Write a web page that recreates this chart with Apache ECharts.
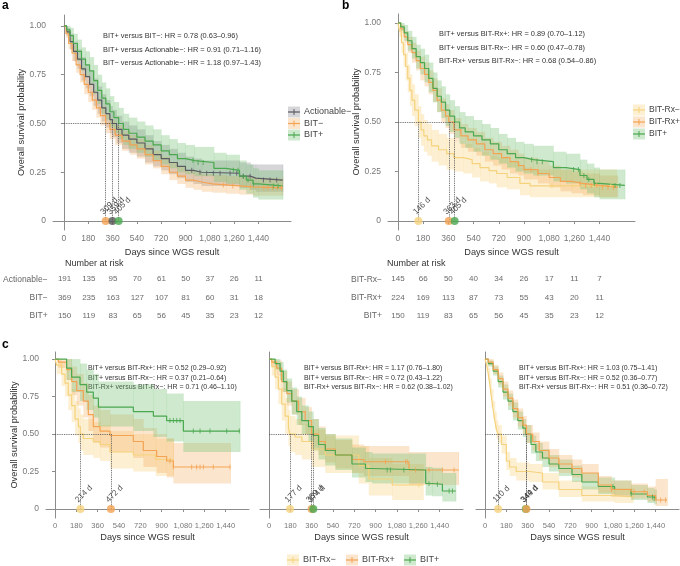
<!DOCTYPE html>
<html>
<head>
<meta charset="utf-8">
<script src="https://cdn.jsdelivr.net/npm/echarts@6/dist/echarts.min.js"></script>
<style>
  html, body { margin: 0; padding: 0; background: #fff; }
  #main { width: 680px; height: 566px; }
</style>
</head>
<body>
<div id="main"></div>
<script>
(function () {
    'use strict';

    // rows are [day, survival, lower CI, upper CI]
    var aActionable = [
        [0, 1, 1, 1], [20, 0.97, 0.95, 0.99], [45, 0.92, 0.88, 0.96], [70, 0.87, 0.82, 0.92],
        [100, 0.83, 0.78, 0.88], [130, 0.78, 0.72, 0.84], [160, 0.74, 0.68, 0.80], [190, 0.70, 0.64, 0.77],
        [220, 0.66, 0.59, 0.73], [250, 0.62, 0.55, 0.69], [280, 0.58, 0.51, 0.65], [310, 0.55, 0.48, 0.62],
        [340, 0.52, 0.45, 0.59], [359, 0.50, 0.43, 0.57], [390, 0.47, 0.40, 0.54], [430, 0.44, 0.37, 0.51],
        [480, 0.42, 0.35, 0.49], [540, 0.40, 0.33, 0.47], [600, 0.37, 0.30, 0.44], [660, 0.34, 0.28, 0.41],
        [720, 0.32, 0.26, 0.39], [780, 0.30, 0.24, 0.37], [840, 0.28, 0.22, 0.35], [900, 0.26, 0.20, 0.33],
        [960, 0.25, 0.19, 0.32], [1020, 0.245, 0.18, 0.31], [1300, 0.23, 0.17, 0.30], [1380, 0.22, 0.16, 0.29],
        [1420, 0.21, 0.15, 0.29], [1620, 0.21, 0.15, 0.29]
    ];
    var aActionableCens = [946, 1007, 1057, 1106, 1156, 1230, 1279, 1328, 1378, 1477, 1526, 1575];

    var aBitMinus = [
        [0, 1, 1, 1], [15, 0.96, 0.94, 0.98], [35, 0.91, 0.88, 0.94], [60, 0.86, 0.82, 0.90],
        [90, 0.80, 0.76, 0.84], [120, 0.75, 0.71, 0.79], [150, 0.70, 0.65, 0.75], [180, 0.66, 0.61, 0.71],
        [210, 0.62, 0.57, 0.67], [240, 0.58, 0.53, 0.63], [270, 0.54, 0.49, 0.59], [309, 0.50, 0.45, 0.55],
        [340, 0.47, 0.42, 0.52], [380, 0.44, 0.39, 0.49], [430, 0.41, 0.36, 0.46], [490, 0.39, 0.34, 0.44],
        [540, 0.37, 0.32, 0.42], [600, 0.34, 0.29, 0.39], [660, 0.31, 0.27, 0.36], [720, 0.28, 0.24, 0.33],
        [780, 0.25, 0.21, 0.30], [840, 0.23, 0.19, 0.28], [900, 0.21, 0.17, 0.26], [960, 0.20, 0.16, 0.25],
        [1020, 0.19, 0.15, 0.24], [1100, 0.185, 0.145, 0.235], [1200, 0.18, 0.14, 0.23],
        [1300, 0.175, 0.135, 0.225], [1400, 0.17, 0.13, 0.22], [1620, 0.17, 0.13, 0.22]
    ];
    var aBitMinusCens = [1180, 1250, 1380, 1480, 1510, 1545, 1580, 1610];

    // BIT+ is the same group in a and b
    var bitPlus = [
        [0, 1, 1, 1], [20, 0.98, 0.96, 1], [45, 0.95, 0.91, 0.99], [70, 0.91, 0.86, 0.96],
        [100, 0.87, 0.82, 0.93], [130, 0.83, 0.77, 0.89], [160, 0.80, 0.74, 0.87], [190, 0.77, 0.70, 0.84],
        [220, 0.72, 0.65, 0.80], [250, 0.67, 0.60, 0.75], [280, 0.63, 0.55, 0.71], [310, 0.60, 0.52, 0.68],
        [340, 0.56, 0.48, 0.64], [370, 0.53, 0.45, 0.61], [405, 0.50, 0.42, 0.58], [440, 0.47, 0.39, 0.55],
        [480, 0.45, 0.37, 0.53], [540, 0.43, 0.35, 0.51], [600, 0.41, 0.33, 0.49], [660, 0.39, 0.31, 0.47],
        [720, 0.36, 0.29, 0.44], [780, 0.34, 0.27, 0.42], [840, 0.32, 0.25, 0.40], [900, 0.31, 0.24, 0.39],
        [967, 0.30, 0.23, 0.38], [1110, 0.27, 0.20, 0.35], [1200, 0.26, 0.19, 0.34], [1300, 0.23, 0.16, 0.31],
        [1350, 0.21, 0.14, 0.29], [1400, 0.19, 0.12, 0.27], [1440, 0.18, 0.11, 0.26], [1620, 0.18, 0.11, 0.26]
    ];
    var bitPlusCens = [955, 993, 1031, 1254, 1289, 1328, 1363, 1402, 1550, 1585];

    var bRxMinus = [
        [0, 1, 1, 1], [10, 0.96, 0.93, 0.99], [25, 0.90, 0.85, 0.95], [40, 0.84, 0.78, 0.90],
        [55, 0.78, 0.71, 0.85], [70, 0.72, 0.65, 0.79], [85, 0.66, 0.58, 0.74], [100, 0.61, 0.53, 0.69],
        [120, 0.56, 0.48, 0.64], [146, 0.50, 0.42, 0.58], [165, 0.46, 0.38, 0.54], [185, 0.43, 0.35, 0.51],
        [210, 0.41, 0.33, 0.49], [240, 0.38, 0.30, 0.46], [290, 0.36, 0.28, 0.44], [348, 0.34, 0.26, 0.42],
        [400, 0.32, 0.25, 0.40], [467, 0.31, 0.24, 0.39], [530, 0.29, 0.22, 0.37], [586, 0.27, 0.20, 0.35],
        [650, 0.255, 0.19, 0.33], [705, 0.24, 0.17, 0.32], [780, 0.22, 0.16, 0.30], [871, 0.19, 0.13, 0.27],
        [943, 0.178, 0.12, 0.26], [1560, 0.178, 0.12, 0.26]
    ];
    var bRxMinusCens = [1100, 1250, 1400, 1520];

    var bRxPlus = [
        [0, 1, 1, 1], [20, 0.97, 0.95, 0.99], [45, 0.93, 0.90, 0.96], [70, 0.89, 0.85, 0.93],
        [100, 0.85, 0.80, 0.90], [130, 0.81, 0.76, 0.86], [160, 0.77, 0.71, 0.83], [190, 0.74, 0.68, 0.80],
        [220, 0.70, 0.64, 0.76], [250, 0.66, 0.60, 0.72], [280, 0.61, 0.55, 0.67], [310, 0.56, 0.50, 0.62],
        [340, 0.53, 0.47, 0.59], [363, 0.50, 0.44, 0.56], [400, 0.46, 0.40, 0.52], [450, 0.43, 0.37, 0.49],
        [500, 0.41, 0.35, 0.47], [560, 0.39, 0.33, 0.45], [620, 0.36, 0.30, 0.42], [680, 0.34, 0.28, 0.40],
        [740, 0.32, 0.26, 0.38], [800, 0.30, 0.24, 0.36], [860, 0.28, 0.23, 0.34], [900, 0.26, 0.21, 0.32],
        [1000, 0.24, 0.19, 0.30], [1080, 0.22, 0.17, 0.28], [1160, 0.20, 0.15, 0.26], [1240, 0.19, 0.14, 0.25],
        [1320, 0.18, 0.13, 0.24], [1440, 0.17, 0.12, 0.23], [1570, 0.17, 0.12, 0.23]
    ];
    var bRxPlusCens = [950, 1000, 1300, 1340, 1380, 1420, 1460, 1500, 1540];

    var c1RxMinus = [
        [0, 1, 1, 1], [14, 0.96, 0.90, 1], [56, 0.90, 0.82, 0.98], [84, 0.84, 0.75, 0.94],
        [112, 0.76, 0.66, 0.87], [141, 0.69, 0.58, 0.80], [169, 0.60, 0.49, 0.72], [197, 0.55, 0.44, 0.67],
        [214, 0.50, 0.39, 0.63], [239, 0.47, 0.36, 0.60], [323, 0.45, 0.34, 0.58], [380, 0.43, 0.32, 0.56],
        [464, 0.38, 0.27, 0.52], [661, 0.36, 0.25, 0.50], [850, 0.33, 0.22, 0.47], [1000, 0.33, 0.22, 0.47]
    ];
    var c1RxPlus = [
        [0, 1, 1, 1], [28, 0.98, 0.94, 1], [98, 0.93, 0.86, 1], [141, 0.85, 0.76, 0.95],
        [183, 0.79, 0.69, 0.90], [239, 0.72, 0.61, 0.84], [281, 0.63, 0.52, 0.76], [323, 0.55, 0.44, 0.69],
        [380, 0.52, 0.41, 0.66], [464, 0.49, 0.38, 0.63], [661, 0.45, 0.34, 0.60], [745, 0.39, 0.28, 0.54],
        [858, 0.35, 0.24, 0.50], [942, 0.32, 0.21, 0.47], [999, 0.28, 0.17, 0.44], [1480, 0.28, 0.17, 0.44]
    ];
    var c1RxPlusCens = [970, 999, 1153, 1195, 1224, 1252, 1336, 1477];
    var c1BitPlus = [
        [0, 1, 1, 1], [98, 0.94, 0.86, 1], [140, 0.88, 0.78, 1], [211, 0.83, 0.72, 0.97],
        [267, 0.78, 0.66, 0.93], [323, 0.74, 0.61, 0.90], [366, 0.68, 0.55, 0.85], [661, 0.65, 0.52, 0.83],
        [830, 0.62, 0.48, 0.80], [942, 0.59, 0.45, 0.77], [1083, 0.52, 0.38, 0.72], [1560, 0.52, 0.38, 0.72]
    ];
    var c1BitPlusCens = [970, 999, 1027, 1055, 1167, 1224, 1308, 1449, 1555];

    var c2RxMinus = [
        [0, 1, 1, 1], [23, 0.95, 0.89, 1], [51, 0.88, 0.80, 0.96], [79, 0.80, 0.70, 0.90],
        [107, 0.70, 0.59, 0.81], [136, 0.62, 0.50, 0.74], [164, 0.54, 0.42, 0.66], [177, 0.50, 0.38, 0.62],
        [220, 0.48, 0.36, 0.60], [277, 0.45, 0.33, 0.57], [362, 0.40, 0.28, 0.53], [475, 0.36, 0.24, 0.49],
        [757, 0.29, 0.17, 0.42], [842, 0.20, 0.09, 0.34], [1040, 0.16, 0.06, 0.30], [1300, 0.16, 0.06, 0.30]
    ];
    var c2RxMinusCens = [1265];
    var c2RxPlus = [
        [0, 1, 1, 1], [23, 0.98, 0.95, 1], [65, 0.94, 0.89, 0.99], [107, 0.85, 0.78, 0.92],
        [150, 0.77, 0.69, 0.85], [192, 0.72, 0.63, 0.80], [249, 0.65, 0.56, 0.74], [305, 0.59, 0.50, 0.68],
        [359, 0.50, 0.41, 0.60], [418, 0.45, 0.36, 0.55], [475, 0.40, 0.31, 0.50], [560, 0.36, 0.27, 0.46],
        [700, 0.33, 0.24, 0.43], [800, 0.315, 0.22, 0.42], [1181, 0.26, 0.16, 0.38], [1600, 0.26, 0.16, 0.38]
    ];
    var c2RxPlusCens = [983, 1153, 1167, 1237, 1350, 1463, 1562];
    var c2BitPlus = [
        [0, 1, 1, 1], [51, 0.97, 0.93, 1], [93, 0.92, 0.86, 0.98], [121, 0.85, 0.78, 0.93],
        [150, 0.79, 0.71, 0.87], [192, 0.72, 0.63, 0.81], [234, 0.65, 0.56, 0.75], [277, 0.59, 0.50, 0.69],
        [333, 0.55, 0.45, 0.65], [374, 0.49, 0.39, 0.60], [418, 0.43, 0.33, 0.54], [475, 0.39, 0.29, 0.50],
        [560, 0.36, 0.26, 0.47], [700, 0.30, 0.21, 0.41], [814, 0.27, 0.18, 0.38], [870, 0.26, 0.17, 0.37],
        [1322, 0.17, 0.09, 0.28], [1378, 0.165, 0.085, 0.275], [1463, 0.12, 0.05, 0.24], [1576, 0.12, 0.05, 0.24]
    ];
    var c2BitPlusCens = [997, 1025, 1138, 1350, 1421, 1520, 1548];

    var c3RxMinus = [
        [0, 1, 1, 1], [14, 0.96, 0.93, 0.99], [28, 0.90, 0.86, 0.94], [42, 0.82, 0.77, 0.87],
        [55, 0.74, 0.68, 0.80], [69, 0.66, 0.60, 0.72], [83, 0.59, 0.53, 0.65], [97, 0.53, 0.47, 0.59],
        [110, 0.50, 0.44, 0.56], [139, 0.43, 0.37, 0.49], [180, 0.32, 0.26, 0.38], [208, 0.28, 0.22, 0.34],
        [263, 0.25, 0.19, 0.31], [374, 0.24, 0.18, 0.30], [485, 0.18, 0.13, 0.24], [623, 0.13, 0.08, 0.19],
        [817, 0.09, 0.05, 0.15], [1094, 0.08, 0.04, 0.14], [1250, 0.08, 0.04, 0.14]
    ];
    var c3RxPlus = [
        [0, 1, 1, 1], [28, 0.98, 0.96, 1], [69, 0.93, 0.90, 0.96], [111, 0.87, 0.83, 0.91],
        [152, 0.80, 0.75, 0.85], [194, 0.74, 0.69, 0.79], [235, 0.67, 0.61, 0.73], [277, 0.61, 0.55, 0.67],
        [319, 0.56, 0.50, 0.62], [349, 0.50, 0.44, 0.56], [402, 0.45, 0.39, 0.51], [457, 0.39, 0.33, 0.45],
        [540, 0.34, 0.28, 0.40], [623, 0.30, 0.24, 0.36], [734, 0.27, 0.21, 0.33], [817, 0.24, 0.18, 0.30],
        [956, 0.16, 0.11, 0.22], [1066, 0.13, 0.08, 0.19], [1233, 0.115, 0.07, 0.17], [1371, 0.09, 0.05, 0.15],
        [1440, 0.06, 0.02, 0.20], [1537, 0.06, 0.02, 0.20]
    ];
    var c3RxPlusCens = [1066, 1260, 1343, 1482, 1524];
    var c3BitPlus = [
        [0, 1, 1, 1], [28, 0.97, 0.95, 0.99], [69, 0.92, 0.89, 0.95], [111, 0.85, 0.81, 0.89],
        [152, 0.78, 0.73, 0.83], [194, 0.72, 0.66, 0.77], [235, 0.65, 0.59, 0.71], [277, 0.59, 0.53, 0.65],
        [319, 0.54, 0.48, 0.60], [344, 0.50, 0.44, 0.56], [388, 0.43, 0.37, 0.49], [429, 0.38, 0.32, 0.44],
        [485, 0.34, 0.28, 0.40], [540, 0.30, 0.25, 0.36], [623, 0.27, 0.22, 0.33], [734, 0.23, 0.18, 0.29],
        [817, 0.18, 0.13, 0.24], [956, 0.15, 0.10, 0.21], [1094, 0.13, 0.09, 0.19], [1233, 0.10, 0.06, 0.16],
        [1371, 0.08, 0.04, 0.14], [1427, 0.07, 0.03, 0.13], [1445, 0.07, 0.03, 0.13]
    ];
    var c3BitPlusCens = [1080, 1233, 1413, 1427];

    // medians (days)
    var aMedians = [309, 359, 405];
    var bMedians = [146, 363, 405];
    var c1Medians = [214, 472];
    var c2Medians = [177, 359, 374];
    var c3Medians = [110, 344, 349];

    // number at risk
    var riskDays = [0, 180, 360, 540, 720, 900, 1080, 1260, 1440];
    var aRiskGroups = ['Actionable−', 'BIT−', 'BIT+'];
    var aRisk = [
        [191, 135, 95, 70, 61, 50, 37, 26, 11],
        [369, 235, 163, 127, 107, 81, 60, 31, 18],
        [150, 119, 83, 65, 56, 45, 35, 23, 12]
    ];
    var bRiskGroups = ['BIT-Rx−', 'BIT-Rx+', 'BIT+'];
    var bRisk = [
        [145, 66, 50, 40, 34, 26, 17, 11, 7],
        [224, 169, 113, 87, 73, 55, 43, 20, 11],
        [150, 119, 83, 65, 56, 45, 35, 23, 12]
    ];

    var xTicks = [0, 180, 360, 540, 720, 900, 1080, 1260, 1440];
    var yTicks = [0, 0.25, 0.5, 0.75, 1];

    var aHR = ['BIT+ versus BIT−: HR = 0.78 (0.63–0.96)',
        'BIT+ versus Actionable−: HR = 0.91 (0.71–1.16)',
        'BIT− versus Actionable−: HR = 1.18 (0.97–1.43)'];
    var bHR = ['BIT+ versus BIT-Rx+: HR = 0.89 (0.70–1.12)',
        'BIT+ versus BIT-Rx−: HR = 0.60 (0.47–0.78)',
        'BIT-Rx+ versus BIT-Rx−: HR = 0.68 (0.54–0.86)'];
    var c1HR = ['BIT+ versus BIT-Rx+: HR = 0.52 (0.29–0.92)',
        'BIT+ versus BIT-Rx−: HR = 0.37 (0.21–0.64)',
        'BIT-Rx+ versus BIT-Rx−: HR = 0.71 (0.46–1.10)'];
    var c2HR = ['BIT+ versus BIT-Rx+: HR = 1.17 (0.76–1.80)',
        'BIT+ versus BIT-Rx−: HR = 0.72 (0.43–1.22)',
        'BIT-Rx+ versus BIT-Rx−: HR = 0.62 (0.38–1.02)'];
    var c3HR = ['BIT+ versus BIT-Rx+: HR = 1.03 (0.75–1.41)',
        'BIT+ versus BIT-Rx−: HR = 0.52 (0.36–0.77)',
        'BIT-Rx+ versus BIT-Rx−: HR = 0.51 (0.36–0.72)'];

    var FONT = 'Liberation Sans';
    var GREY = '#5a5a63', ORANGE = '#f4a352', GREEN = '#4aa84f', YELLOW = '#f5d27c';
    var GREY_B = 'rgba(120,120,130,0.30)', ORANGE_B = 'rgba(246,168,88,0.30)';
    var GREEN_B = 'rgba(110,190,110,0.34)', YELLOW_B = 'rgba(250,214,130,0.36)';

    var chart = echarts.init(document.getElementById('main'));

    function thousands(v) {
        return String(v).replace(/\B(?=(\d{3})+(?!\d))/g, ',');
    }

    function survAt(rows, t) {
        var s = 1;
        for (var i = 0; i < rows.length; i++) {
            if (rows[i][0] <= t) s = rows[i][1];
        }
        return s;
    }

    var grids = [
        {left: 53, top: 15, width: 238, height: 215},
        {left: 388, top: 14, width: 247, height: 216},
        {left: 46, top: 352, width: 203, height: 166},
        {left: 260, top: 352, width: 203, height: 166},
        {left: 476, top: 352, width: 203, height: 166},
        {left: 53, top: 270, width: 238, height: 55},
        {left: 388, top: 270, width: 247, height: 55}
    ];
    var xr = [[-81, 1681], [-71, 1693], [-76, 1637], [-76, 1637], [-76, 1637]];
    var yr = [[-0.046, 1.056], [-0.045, 1.045], [-0.06, 1.047], [-0.06, 1.047], [-0.06, 1.047]];

    var xAxes = [], yAxes = [];
    for (var g = 0; g < 5; g++) {
        xAxes.push({
            type: 'value', gridIndex: g, min: xr[g][0], max: xr[g][1],
            axisLine: {show: true, lineStyle: {color: '#8c8c8c', width: 1}},
            axisTick: {show: true, customValues: xTicks, length: 3, lineStyle: {color: '#8c8c8c'}},
            axisLabel: {
                customValues: xTicks, formatter: thousands, color: '#777',
                fontSize: g < 2 ? 8.5 : 7.6, margin: 4, fontFamily: FONT
            },
            splitLine: {show: false},
            name: 'Days since WGS result', nameLocation: 'middle', nameGap: g < 2 ? 18 : 15,
            nameTextStyle: {color: '#333', fontSize: 9.2, fontFamily: FONT}
        });
        var lab = g < 3;
        yAxes.push({
            type: 'value', gridIndex: g, min: yr[g][0], max: yr[g][1],
            axisLine: {show: true, lineStyle: {color: '#8c8c8c', width: 1}},
            axisTick: {show: lab, customValues: yTicks, length: 3, lineStyle: {color: '#8c8c8c'}},
            axisLabel: {
                show: lab, customValues: yTicks, color: '#777', fontSize: 8.5, margin: 7, fontFamily: FONT,
                formatter: function (v) { return v === 0 ? '0' : v.toFixed(2); }
            },
            splitLine: {show: false},
            name: lab ? 'Overall survival probability' : '', nameLocation: 'middle', nameGap: g === 2 ? 27 : 27,
            nameTextStyle: {color: '#333', fontSize: 9.2, fontFamily: FONT}
        });
    }
    // risk table axes
    [[5, 0, aRiskGroups], [6, 1, bRiskGroups]].forEach(function (t) {
        xAxes.push({type: 'value', gridIndex: t[0], min: xr[t[1]][0], max: xr[t[1]][1], show: false});
        yAxes.push({
            type: 'category', gridIndex: t[0], data: t[2], inverse: true,
            axisLine: {show: false}, axisTick: {show: false}, splitLine: {show: false},
            axisLabel: {color: '#666', fontSize: 8.5, margin: 6, fontFamily: FONT}
        });
    });

    var series = [];

    function addCurve(gi, rows, cens, col, band) {
        var bandData = rows.map(function (r, i) {
            var next = i < rows.length - 1 ? rows[i + 1][0] : r[0];
            return [r[0], r[2], r[3], next];
        });
        series.push({
            type: 'custom', xAxisIndex: gi, yAxisIndex: gi, clip: true, silent: true, z: 1,
            encode: {x: [0, 3], y: [1, 2]},
            data: bandData,
            renderItem: function (params, api) {
                var p1 = api.coord([api.value(0), api.value(2)]);
                var p2 = api.coord([api.value(3), api.value(1)]);
                return {
                    type: 'rect',
                    shape: {x: p1[0], y: p1[1], width: Math.max(0, p2[0] - p1[0] + 0.4), height: p2[1] - p1[1]},
                    style: {fill: band}
                };
            }
        });
        series.push({
            type: 'line', xAxisIndex: gi, yAxisIndex: gi, step: 'end', showSymbol: false, z: 3,
            data: rows.map(function (r) { return [r[0], r[1]]; }),
            lineStyle: {color: col, width: 1.2}, itemStyle: {color: col}
        });
        if (cens && cens.length) {
            series.push({
                type: 'scatter', xAxisIndex: gi, yAxisIndex: gi, symbol: 'rect', symbolSize: [1, 5], z: 4,
                data: cens.map(function (t) { return [t, survAt(rows, t)]; }),
                itemStyle: {color: col}
            });
        }
    }

    function addMedians(gi, meds, cols) {
        var maxM = Math.max.apply(null, meds);
        var ml = [[{coord: [0, 0.5]}, {coord: [maxM, 0.5]}]];
        meds.forEach(function (m) { ml.push([{coord: [m, 0.5]}, {coord: [m, 0]}]); });
        series.push({
            type: 'scatter', xAxisIndex: gi, yAxisIndex: gi, symbolSize: 8, z: 6,
            data: meds.map(function (m, i) { return {value: [m, 0], itemStyle: {color: cols[i]}}; }),
            label: {
                show: true, position: [3, -1], rotate: 45, align: 'left', verticalAlign: 'bottom',
                fontSize: 8.2, color: '#222', fontFamily: FONT,
                formatter: function (p) { return p.value[0] + ' d'; }
            },
            markLine: {
                silent: true, symbol: 'none', label: {show: false}, animation: false,
                lineStyle: {type: 'dotted', color: '#555', width: 0.9},
                data: ml
            }
        });
    }

    function addTable(gi, rows) {
        var d = [];
        rows.forEach(function (r, i) {
            r.forEach(function (v, j) { d.push([riskDays[j], i, v]); });
        });
        series.push({
            type: 'scatter', xAxisIndex: gi, yAxisIndex: gi, symbolSize: 1,
            itemStyle: {color: 'rgba(0,0,0,0)'},
            label: {show: true, position: 'inside', fontSize: 8, color: '#444', fontFamily: FONT,
                formatter: function (p) { return p.value[2]; }},
            data: d
        });
    }

    // a
    addCurve(0, aActionable, aActionableCens, GREY, GREY_B);
    addCurve(0, aBitMinus, aBitMinusCens, ORANGE, ORANGE_B);
    addCurve(0, bitPlus, bitPlusCens, GREEN, GREEN_B);
    addMedians(0, aMedians, [ORANGE, '#555', GREEN]);
    // b
    addCurve(1, bRxMinus, bRxMinusCens, YELLOW, YELLOW_B);
    addCurve(1, bRxPlus, bRxPlusCens, ORANGE, ORANGE_B);
    addCurve(1, bitPlus, bitPlusCens, GREEN, GREEN_B);
    addMedians(1, bMedians, [YELLOW, ORANGE, GREEN]);
    // c
    addCurve(2, c1RxMinus, null, YELLOW, YELLOW_B);
    addCurve(2, c1RxPlus, c1RxPlusCens, ORANGE, ORANGE_B);
    addCurve(2, c1BitPlus, c1BitPlusCens, GREEN, GREEN_B);
    addMedians(2, c1Medians, [YELLOW, ORANGE]);
    addCurve(3, c2RxMinus, c2RxMinusCens, YELLOW, YELLOW_B);
    addCurve(3, c2RxPlus, c2RxPlusCens, ORANGE, ORANGE_B);
    addCurve(3, c2BitPlus, c2BitPlusCens, GREEN, GREEN_B);
    addMedians(3, c2Medians, [YELLOW, ORANGE, GREEN]);
    addCurve(4, c3RxMinus, null, YELLOW, YELLOW_B);
    addCurve(4, c3BitPlus, c3BitPlusCens, GREEN, GREEN_B);
    addCurve(4, c3RxPlus, c3RxPlusCens, ORANGE, ORANGE_B);
    addMedians(4, c3Medians, [YELLOW, GREEN, ORANGE]);
    // risk tables
    addTable(5, aRisk);
    addTable(6, bRisk);

    var graphics = [];

    function txt(x, y, s, size, opts) {
        var st = {text: s, x: x, y: y, fontSize: size, fontFamily: FONT, fill: '#333', textVerticalAlign: 'middle'};
        for (var k in (opts || {})) st[k] = opts[k];
        graphics.push({type: 'text', style: st, silent: true});
    }

    function hr(x, y0, gap, lines, size) {
        lines.forEach(function (s, i) { txt(x, y0 + i * gap, s, size); });
    }

    function legendItem(x, y, col, band, label, size) {
        graphics.push({type: 'rect', shape: {x: x - 6, y: y - 5.5, width: 12, height: 11}, style: {fill: band}, silent: true});
        graphics.push({type: 'line', shape: {x1: x - 6, y1: y, x2: x + 6, y2: y}, style: {stroke: col, lineWidth: 1.2}, silent: true});
        graphics.push({type: 'line', shape: {x1: x, y1: y - 3, x2: x, y2: y + 3}, style: {stroke: col, lineWidth: 1}, silent: true});
        txt(x + 10, y, label, size || 9, {fill: '#444'});
    }

    txt(2, 6, 'a', 12, {fontWeight: 'bold', fill: '#000'});
    txt(342, 6, 'b', 12, {fontWeight: 'bold', fill: '#000'});
    txt(2, 345, 'c', 12, {fontWeight: 'bold', fill: '#000'});

    hr(103, 36, 13.5, aHR, 7.4);
    hr(439, 34, 13.7, bHR, 7.4);
    hr(88, 368.5, 9.2, c1HR, 7);
    hr(304, 368.5, 9.2, c2HR, 7);
    hr(519, 368.5, 9.2, c3HR, 7);

    txt(65, 264, 'Number at risk', 9);
    txt(387, 264, 'Number at risk', 9);

    legendItem(294, 112, GREY, GREY_B, 'Actionable−', 9);
    legendItem(294, 123.5, ORANGE, ORANGE_B, 'BIT−', 9);
    legendItem(294, 135, GREEN, GREEN_B, 'BIT+', 9);

    legendItem(639, 110, YELLOW, YELLOW_B, 'BIT-Rx−', 8.5);
    legendItem(639, 122, ORANGE, ORANGE_B, 'BIT-Rx+', 8.5);
    legendItem(639, 134, GREEN, GREEN_B, 'BIT+', 8.5);

    legendItem(293, 560, YELLOW, YELLOW_B, 'BIT-Rx−', 9);
    legendItem(352, 560, ORANGE, ORANGE_B, 'BIT-Rx+', 9);
    legendItem(410, 560, GREEN, GREEN_B, 'BIT+', 9);

    chart.setOption({
        animation: false,
        textStyle: {fontFamily: FONT},
        grid: grids,
        xAxis: xAxes,
        yAxis: yAxes,
        series: series,
        graphic: graphics
    });
})();
</script>
</body>
</html>
